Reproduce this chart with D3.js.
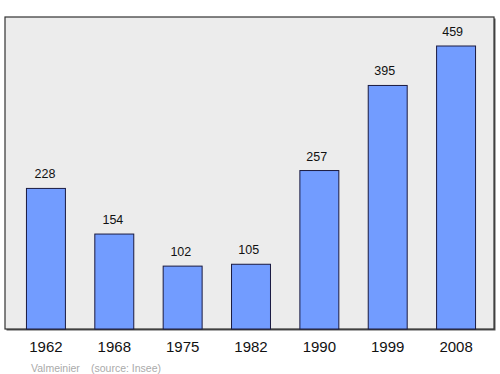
<!DOCTYPE html>
<html>
<head>
<meta charset="utf-8">
<script src="https://cdn.jsdelivr.net/npm/d3@7"></script>
<style>
    body { margin: 0; background: #fff; }
    text { font-family: "Liberation Sans", Arial, sans-serif; }
</style>
</head>
<body>
<div id="graph"></div>
<script>
"use strict";
(function() {
    const years = ["1962", "1968", "1975", "1982", "1990", "1999", "2008"];
    const population = [228, 154, 102, 105, 257, 395, 459];
    const town = "Valmeinier";
    const source = "(source: Insee)";

    const svgSize = { width: 500, height: 374 };
    const frame = { left: 5, top: 17, right: 494, bottom: 329 };

    window.addEventListener("load", init);

    function init() {
        let svg = d3.select("#graph")
            .append("svg")
                .attr("width", svgSize.width)
                .attr("height", svgSize.height);

        // shadow + frame
        svg.append("rect")
            .attr("x", frame.left + 1.5)
            .attr("y", frame.top + 1.5)
            .attr("width", frame.right - frame.left)
            .attr("height", frame.bottom - frame.top)
            .attr("fill", "#555");
        svg.append("rect")
            .attr("x", frame.left)
            .attr("y", frame.top)
            .attr("width", frame.right - frame.left)
            .attr("height", frame.bottom - frame.top)
            .attr("fill", "#ececec")
            .attr("stroke", "#333")
            .attr("stroke-width", 1.2);

        let xScale = d3.scaleBand()
            .domain(years)
            .range([8, 494])
            .paddingInner(0.43)
            .paddingOuter(0.27);

        let yScale = d3.scaleLinear()
            .domain([0, 459])
            .range([frame.bottom, 46]);

        svg.selectAll("rect.bar")
            .data(population)
            .enter()
            .append("rect")
                .attr("class", "bar")
                .attr("x", (d, i) => xScale(years[i]))
                .attr("y", (d) => yScale(d))
                .attr("width", xScale.bandwidth())
                .attr("height", (d) => yScale(0) - yScale(d))
                .attr("fill", "#729cff")
                .attr("stroke", "#1a1a40")
                .attr("stroke-width", 1);

        // value labels sit a touch left of the bar centre in the original
        svg.selectAll("text.value")
            .data(population)
            .enter()
            .append("text")
                .attr("class", "value")
                .attr("x", (d, i) => xScale(years[i]) + xScale.bandwidth() / 2 - 1 - i * 0.4)
                .attr("y", (d) => yScale(d) - 10)
                .attr("text-anchor", "middle")
                .style("font-size", "12.5px")
                .attr("fill", "#111")
                .text((d) => d);

        // axis labels under the frame
        let axis = svg.append("g")
            .attr("transform", "translate(0," + frame.bottom + ")")
            .call(d3.axisBottom(xScale).tickSize(0).tickPadding(12));
        axis.select(".domain").remove();
        axis.selectAll("text")
            .style("font-size", "15px")
            .style("font-family", "'Liberation Sans', Arial, sans-serif")
            .attr("fill", "#111");

        svg.append("text")
            .attr("x", 31)
            .attr("y", 372)
            .style("font-size", "10.5px")
            .attr("fill", "#aaa")
            .text(town);
        svg.append("text")
            .attr("x", 91)
            .attr("y", 372)
            .style("font-size", "10.5px")
            .attr("fill", "#aaa")
            .text(source);
    }
})();
</script>
</body>
</html>
